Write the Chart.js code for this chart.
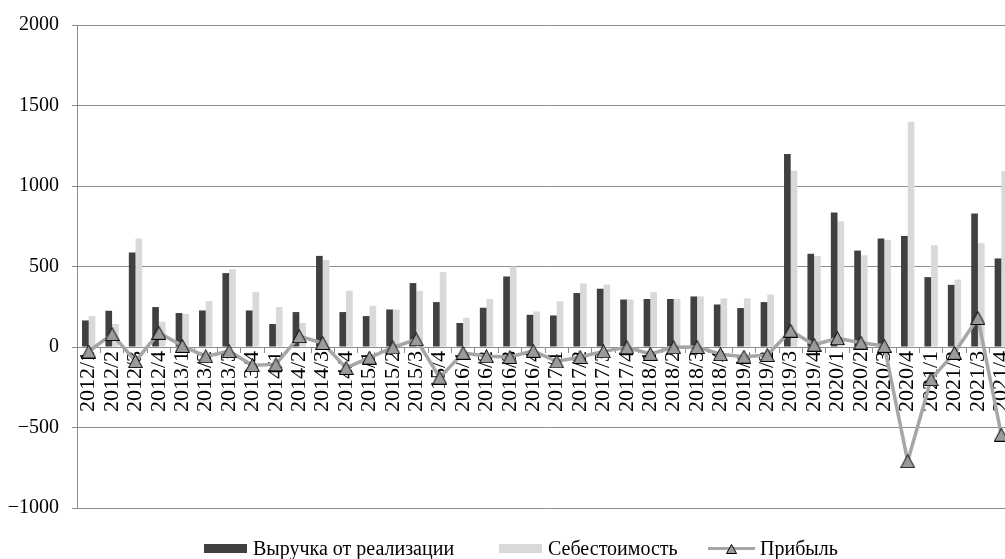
<!DOCTYPE html>
<html lang="ru">
<head>
<meta charset="utf-8">
<title>Выручка, себестоимость и прибыль по кварталам</title>
<script src="https://cdn.jsdelivr.net/npm/chart.js@4.4.1/dist/chart.umd.min.js"></script>
<style>
  html, body { margin: 0; padding: 0; background: #fff; overflow: hidden; }
  #wrap { width: 1030px; height: 559px; }
</style>
</head>
<body>
<div id="wrap"><canvas id="chart" width="1030" height="559"></canvas></div>
<script>
// Quarters, 2012–2021
const quarters = [
  '2012/1', '2012/2', '2012/3', '2012/4',
  '2013/1', '2013/2', '2013/3', '2013/4',
  '2014/1', '2014/2', '2014/3', '2014/4',
  '2015/1', '2015/2', '2015/3', '2015/4',
  '2016/1', '2016/2', '2016/3', '2016/4',
  '2017/1', '2017/2', '2017/3', '2017/4',
  '2018/1', '2018/2', '2018/3', '2018/4',
  '2019/1', '2019/2', '2019/3', '2019/4',
  '2020/1', '2020/2', '2020/3', '2020/4',
  '2021/1', '2021/2', '2021/3', '2021/4'
];

// Выручка от реализации
const revenue = [
  165, 225, 587, 248,
  211, 227, 459, 227,
  143, 217, 566, 217,
  192, 233, 397, 279,
  149, 244, 438, 200,
  196, 335, 362, 295,
  298, 298, 314, 264,
  242, 279, 1198, 579,
  835, 599, 674, 690,
  434, 386, 829, 550
];

// Себестоимость
const cost = [
  192, 143, 674, 157,
  205, 285, 483, 341,
  248, 149, 541, 349,
  256, 233, 349, 465,
  182, 298, 500, 221,
  285, 395, 388, 295,
  341, 298, 314, 302,
  302, 326, 1095, 564,
  781, 570, 665, 1399,
  632, 419, 645, 1091
];

// Прибыль
const profit = [
  -28, 80, -88, 88,
  7, -58, -26, -113,
  -108, 67, 25, -130,
  -66, -3, 47, -190,
  -36, -58, -62, -24,
  -90, -62, -27, -2,
  -43, -2, 0, -45,
  -60, -50, 101, 14,
  54, 27, 7, -710,
  -200, -36, 180, -545
];

// Value axis ticks
const yTickValues = [-1000, -500, 0, 500, 1000, 1500, 2000];

const SERIF = '"Liberation Serif", "Times New Roman", serif';
const GRID = '#8c8c8c';

// Triangle marker drawn once to a small canvas, centred on its bounding box
function triangleMarker(width, height, fill) {
  const c = document.createElement('canvas');
  c.width = width + 2;
  c.height = height + 2;
  const g = c.getContext('2d');
  g.beginPath();
  g.moveTo(c.width / 2, 0.5);
  g.lineTo(c.width - 0.5, c.height - 0.5);
  g.lineTo(0.5, c.height - 0.5);
  g.closePath();
  g.fillStyle = fill;
  g.fill();
  g.lineWidth = 1;
  g.strokeStyle = '#000';
  g.stroke();
  return c;
}

const marker = triangleMarker(13, 12, '#9b9b9b');
const legendMarker = triangleMarker(9, 8, '#9b9b9b');

// Legend along the bottom edge: bar swatches and a line-with-marker sample
const bottomLegend = {
  id: 'bottomLegend',
  afterDraw(chart) {
    const g = chart.ctx;
    const slots = [204, 499, 708];
    const midY = 548.5;
    g.save();
    g.font = '20px ' + SERIF;
    g.textBaseline = 'alphabetic';
    g.textAlign = 'left';
    chart.data.datasets.forEach((d, i) => {
      const x = slots[i];
      let tx;
      if (d.type === 'line') {
        g.strokeStyle = d.borderColor;
        g.lineWidth = 3;
        g.beginPath();
        g.moveTo(x, midY);
        g.lineTo(x + 47, midY);
        g.stroke();
        g.drawImage(legendMarker, Math.round(x + 23.5 - legendMarker.width / 2), Math.round(midY - legendMarker.height / 2));
        tx = x + 52;
      } else {
        g.fillStyle = d.backgroundColor;
        g.fillRect(x, 544, 43, 9);
        tx = x + 49;
      }
      g.fillStyle = '#000';
      g.fillText(d.label, tx, 555);
    });
    g.restore();
  }
};

new Chart(document.getElementById('chart'), {
  type: 'bar',
  data: {
    labels: quarters,
    datasets: [
      {
        label: 'Выручка от реализации',
        data: revenue,
        backgroundColor: '#404040',
        categoryPercentage: 0.57,
        barPercentage: 1,
        order: 2
      },
      {
        label: 'Себестоимость',
        data: cost,
        backgroundColor: '#d9d9d9',
        categoryPercentage: 0.57,
        barPercentage: 1,
        order: 2
      },
      {
        type: 'line',
        label: 'Прибыль',
        data: profit,
        borderColor: '#a6a6a6',
        borderWidth: 3.5,
        tension: 0,
        pointStyle: marker,
        pointRadius: 7,
        pointHoverRadius: 7,
        order: 1
      }
    ]
  },
  options: {
    responsive: false,
    animation: false,
    devicePixelRatio: 1,
    layout: { padding: { top: 21, left: 0, right: 17, bottom: 51 } },
    plugins: {
      legend: { display: false },
      tooltip: { enabled: false }
    },
    scales: {
      x: {
        position: { y: 0 },
        grid: {
          display: true,
          drawOnChartArea: false,
          drawTicks: true,
          tickLength: 5,
          color: GRID,
          offset: true
        },
        border: { display: true, color: GRID, width: 1 },
        ticks: {
          autoSkip: false,
          minRotation: 90,
          maxRotation: 90,
          padding: -1,
          color: '#000',
          font: { family: SERIF, size: 22 }
        }
      },
      y: {
        min: yTickValues[0],
        max: yTickValues[yTickValues.length - 1],
        grid: { color: GRID, tickLength: 5 },
        border: { display: true, color: GRID, width: 1 },
        ticks: {
          stepSize: yTickValues[1] - yTickValues[0],
          padding: 13,
          color: '#000',
          font: { family: SERIF, size: 20 },
          callback: v => (v < 0 ? '\u2212' + Math.abs(v) : String(v))
        },
        afterFit(scale) { scale.width = 77; }
      }
    }
  },
  plugins: [bottomLegend]
});
</script>
</body>
</html>
